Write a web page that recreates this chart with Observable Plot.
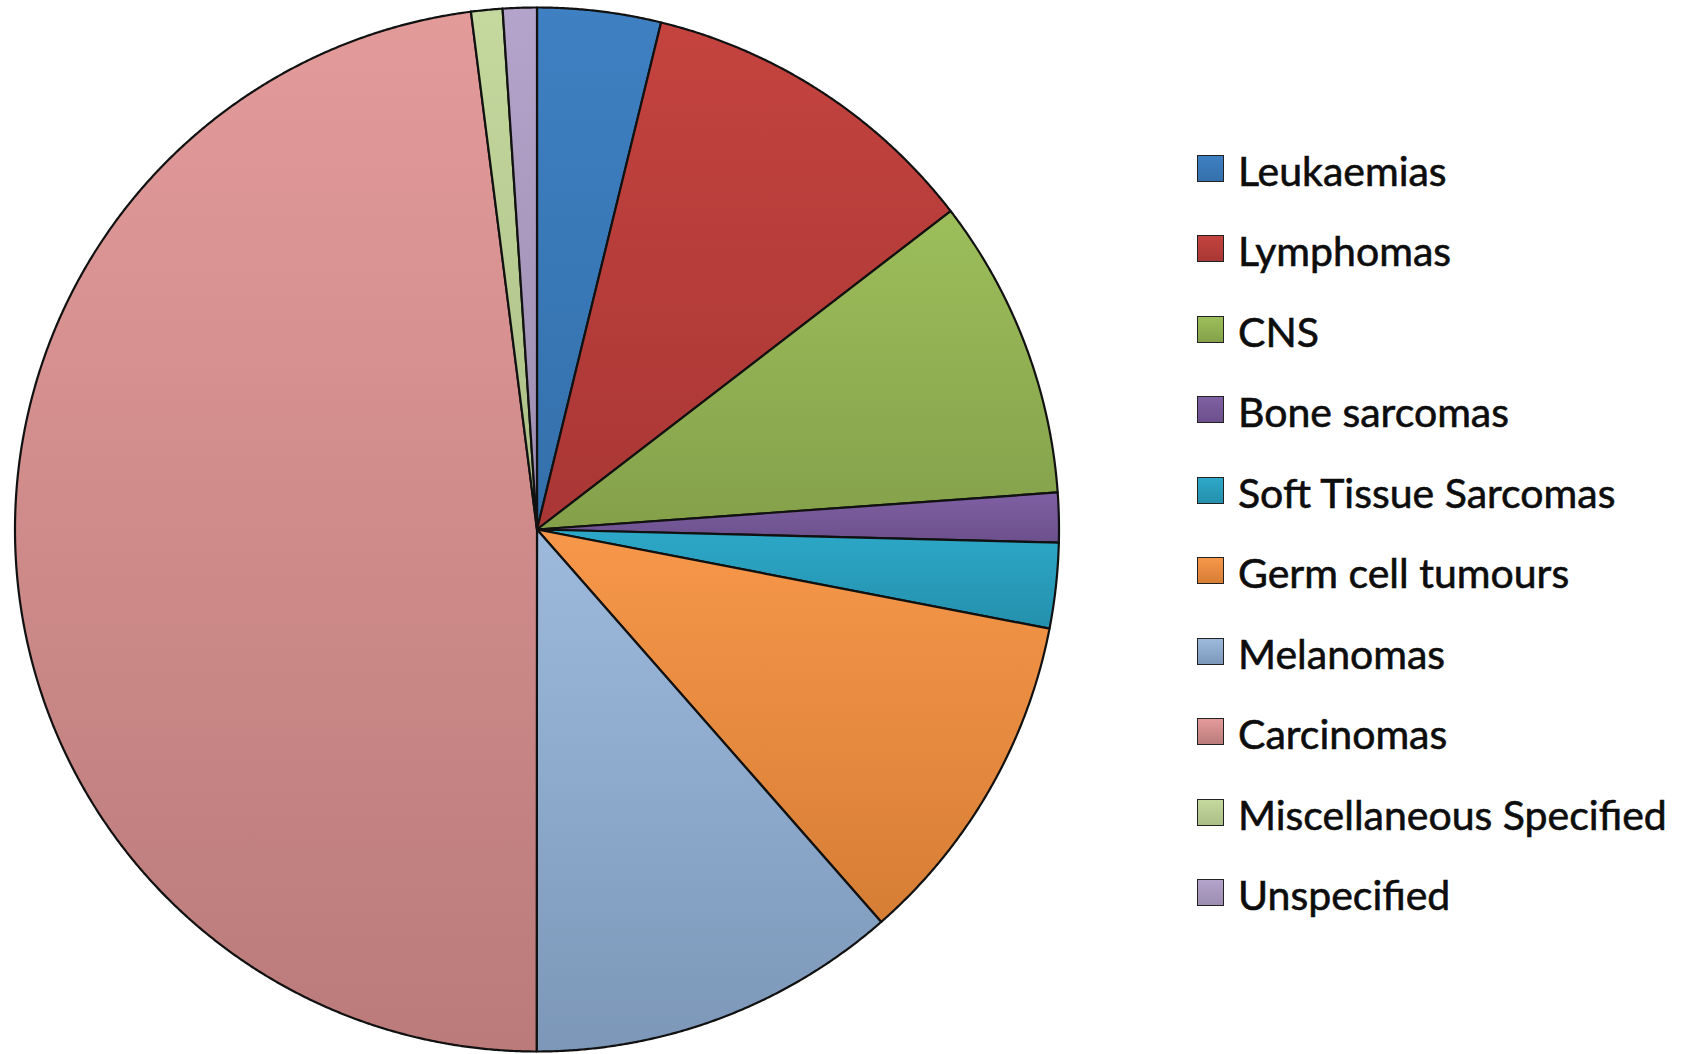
<!DOCTYPE html>
<html>
<head>
<meta charset="utf-8">
<script src="https://cdn.jsdelivr.net/npm/d3@7"></script>
<script src="https://cdn.jsdelivr.net/npm/@observablehq/plot@0.6"></script>
<style>
html, body { margin: 0; padding: 0; background: #fff; }
#wrap { position: relative; width: 1691px; height: 1054px; overflow: hidden; }
#chart { position: absolute; left: 0; top: 0; }
#legend { position: absolute; left: 1197px; top: 128px; font-family: Lato, "Open Sans", sans-serif; font-size: 41px; color: #0d0d0d; }
.item { display: flex; align-items: center; height: 80.5px; white-space: nowrap; }
.swatch { width: 27px; height: 27px; box-sizing: border-box; border: 1.8px solid #222; margin-right: 14px; flex: none; }
.label { line-height: 1; transform: translateY(2px); -webkit-text-stroke: 0.6px #0d0d0d; }
</style>
</head>
<body>
<div id="wrap">
  <div id="chart"></div>
  <div id="legend"></div>
</div>
<script>
// ---- data ----
const categories = ["Leukaemias", "Lymphomas", "CNS", "Bone sarcomas", "Soft Tissue Sarcomas",
  "Germ cell tumours", "Melanomas", "Carcinomas", "Miscellaneous Specified", "Unspecified"];
const values = [3.82, 10.74, 9.31, 1.53, 2.64, 10.5, 11.47, 47.97, 0.97, 1.05];
const topColors = ["#3E80C2", "#C4433F", "#9DBE5B", "#7F60A3", "#2DA8C8",
  "#F7974A", "#9DBADD", "#E39B9A", "#C5D89E", "#B4A3CA"];
const bottomColors = ["#3470AB", "#A93735", "#84A14A", "#6C508C", "#2490AD",
  "#D67E35", "#7C97B8", "#BA7B7A", "#ABBE85", "#9C8DB1"];

// ---- build slices ----
const arcs = d3.pie().sort(null).startAngle(0).endAngle(2 * Math.PI)(values);
const points = [];
arcs.forEach((a, i) => {
  const name = categories[i];
  const fill = `url(#g${i})`;
  points.push({name, fill, x: 0, y: 0});
  const n = Math.max(2, Math.ceil((a.endAngle - a.startAngle) / 0.004));
  for (let k = 0; k <= n; k++) {
    const t = a.startAngle + (a.endAngle - a.startAngle) * k / n;
    points.push({name, fill, x: Math.sin(t), y: Math.cos(t)});
  }
  points.push({name, fill, x: 0, y: 0});
});

const svg = Plot.plot({
  width: 1691,
  height: 1054,
  x: {domain: [-1, 1], range: [14.5, 1058.5], axis: null},
  y: {domain: [-1, 1], range: [1051, 7], axis: null},
  color: {type: "identity"},
  marks: [
    Plot.line(points, {x: "x", y: "y", z: "name", fill: "fill", stroke: "#111",
      strokeWidth: 2.2, strokeLinejoin: "round", curve: "linear"})
  ]
});

const defs = d3.select(svg).insert("defs", ":first-child");
categories.forEach((c, i) => {
  const g = defs.append("linearGradient").attr("id", `g${i}`)
    .attr("x1", 0).attr("y1", 0).attr("x2", 0).attr("y2", 1);
  g.append("stop").attr("offset", "0%").attr("stop-color", topColors[i]);
  g.append("stop").attr("offset", "100%").attr("stop-color", bottomColors[i]);
});
document.getElementById("chart").appendChild(svg);

// ---- legend ----
const legend = d3.select("#legend");
categories.forEach((c, i) => {
  const it = legend.append("div").attr("class", "item");
  it.append("div").attr("class", "swatch")
    .style("background", `linear-gradient(${topColors[i]}, ${bottomColors[i]})`);
  it.append("span").attr("class", "label").text(c);
});
</script>
</body>
</html>
